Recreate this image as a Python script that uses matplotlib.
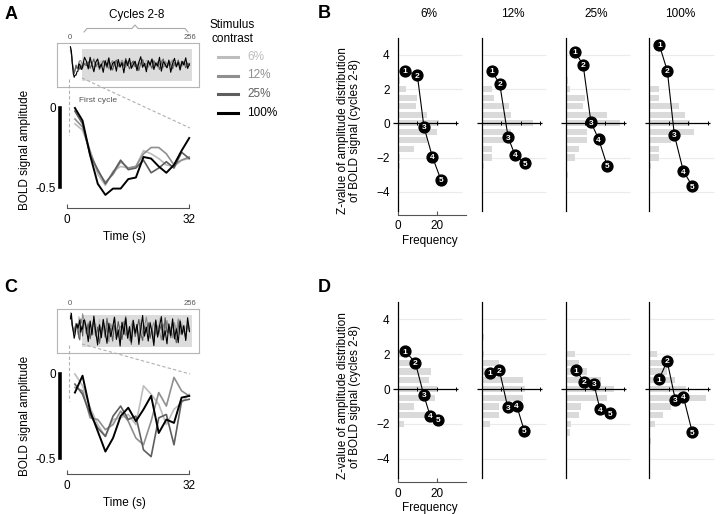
import numpy as np
import matplotlib.pyplot as plt
from matplotlib.lines import Line2D
from matplotlib.patches import Rectangle

plt.rcParams['font.family'] = ['Liberation Sans', 'DejaVu Sans']

W, H = 720, 514

contrasts = ['6%', '12%', '25%', '100%']
colors = ['#bdbdbd', '#8f8f8f', '#5e5e5e', '#000000']
widths = [1.2, 1.2, 1.2, 1.4]

# first cycle, one sample every 2 s
t_first = np.arange(2, 33, 2)

# panel A, first cycle (6, 12, 25, 100 %)
a_first = [
    [-0.10, -0.14, -0.27, -0.42, -0.49, -0.40, -0.37, -0.38, -0.37, -0.27, -0.29, -0.32, -0.36, -0.37, -0.33, -0.32],
    [-0.07, -0.12, -0.28, -0.40, -0.47, -0.42, -0.34, -0.38, -0.37, -0.29, -0.25, -0.25, -0.29, -0.36, -0.33, -0.31],
    [-0.02, -0.10, -0.30, -0.39, -0.48, -0.41, -0.33, -0.39, -0.38, -0.33, -0.41, -0.38, -0.34, -0.38, -0.28, -0.32],
    [0.00, -0.08, -0.30, -0.48, -0.55, -0.51, -0.51, -0.45, -0.44, -0.31, -0.32, -0.37, -0.41, -0.36, -0.27, -0.19],
]
# panel A, cycles 2-8 (read every 4 s from the inset)
a_rest = [
    [-0.31, -0.27, -0.35, -0.30, -0.24, -0.33, -0.37, -0.29, -0.26, -0.34, -0.31, -0.22, -0.30, -0.36, -0.28, -0.33,
     -0.25, -0.31, -0.38, -0.29, -0.27, -0.34, -0.30, -0.23, -0.32, -0.37, -0.28, -0.31, -0.26, -0.35, -0.29, -0.33,
     -0.24, -0.30, -0.36, -0.27, -0.32, -0.29, -0.38, -0.31, -0.25, -0.33, -0.28, -0.35, -0.30, -0.26, -0.34, -0.29,
     -0.37, -0.31, -0.27, -0.33, -0.30, -0.25, -0.32, -0.29],
    [-0.29, -0.34, -0.26, -0.32, -0.38, -0.28, -0.23, -0.31, -0.35, -0.27, -0.33, -0.29, -0.40, -0.30, -0.25, -0.34,
     -0.28, -0.36, -0.31, -0.24, -0.32, -0.37, -0.27, -0.30, -0.35, -0.26, -0.33, -0.39, -0.29, -0.31, -0.25, -0.34,
     -0.30, -0.37, -0.28, -0.23, -0.32, -0.35, -0.27, -0.33, -0.30, -0.38, -0.26, -0.31, -0.34, -0.29, -0.24, -0.33,
     -0.36, -0.28, -0.31, -0.35, -0.27, -0.32, -0.29, -0.34],
    [-0.34, -0.27, -0.39, -0.31, -0.22, -0.36, -0.29, -0.41, -0.33, -0.25, -0.30, -0.38, -0.26, -0.35, -0.42, -0.29,
     -0.24, -0.33, -0.37, -0.28, -0.35, -0.21, -0.31, -0.40, -0.30, -0.26, -0.36, -0.32, -0.43, -0.29, -0.23, -0.34,
     -0.38, -0.27, -0.31, -0.39, -0.25, -0.33, -0.30, -0.41, -0.28, -0.22, -0.35, -0.37, -0.26, -0.32, -0.40, -0.29,
     -0.34, -0.24, -0.36, -0.31, -0.27, -0.38, -0.30, -0.33],
    [-0.26, -0.40, -0.19, -0.33, -0.45, -0.28, -0.22, -0.38, -0.31, -0.46, -0.25, -0.35, -0.20, -0.42, -0.30, -0.27,
     -0.44, -0.23, -0.36, -0.29, -0.47, -0.24, -0.34, -0.21, -0.39, -0.32, -0.26, -0.43, -0.28, -0.18, -0.37, -0.30,
     -0.45, -0.25, -0.33, -0.22, -0.41, -0.29, -0.35, -0.19, -0.44, -0.27, -0.31, -0.38, -0.24, -0.46, -0.30, -0.21,
     -0.36, -0.28, -0.42, -0.26, -0.33, -0.20, -0.39, -0.31],
]

# panel C, first cycle
c_first = [
    [0.00, -0.07, -0.20, -0.30, -0.37, -0.27, -0.26, -0.24, -0.30, -0.07, -0.12, -0.18, -0.30, -0.21, -0.17, -0.12],
    [-0.08, -0.10, -0.26, -0.27, -0.33, -0.30, -0.22, -0.28, -0.38, -0.42, -0.28, -0.11, -0.19, -0.02, -0.10, -0.13],
    [-0.06, -0.12, -0.24, -0.32, -0.37, -0.25, -0.19, -0.27, -0.25, -0.45, -0.49, -0.26, -0.24, -0.42, -0.16, -0.15],
    [-0.11, -0.01, -0.22, -0.34, -0.46, -0.38, -0.25, -0.20, -0.28, -0.21, -0.13, -0.35, -0.27, -0.29, -0.14, -0.13],
]
c_rest = [
    [-0.22, -0.35, -0.15, -0.28, -0.40, -0.19, -0.31, -0.12, -0.37, -0.25, -0.44, -0.18, -0.30, -0.23, -0.39, -0.14,
     -0.33, -0.27, -0.46, -0.20, -0.29, -0.11, -0.36, -0.24, -0.41, -0.17, -0.32, -0.26, -0.38, -0.13, -0.30, -0.43,
     -0.21, -0.34, -0.16, -0.28, -0.40, -0.23, -0.35, -0.10, -0.27, -0.45, -0.19, -0.33, -0.25, -0.38, -0.14, -0.31,
     -0.42, -0.22, -0.29, -0.17, -0.36, -0.26, -0.20, -0.24],
    [-0.30, -0.18, -0.42, -0.26, -0.12, -0.37, -0.48, -0.21, -0.33, -0.15, -0.39, -0.27, -0.52, -0.20, -0.31, -0.09,
     -0.36, -0.44, -0.24, -0.29, -0.16, -0.41, -0.33, -0.50, -0.22, -0.13, -0.35, -0.27, -0.46, -0.19, -0.38, -0.25,
     -0.08, -0.32, -0.43, -0.28, -0.17, -0.40, -0.23, -0.34, -0.49, -0.20, -0.30, -0.14, -0.37, -0.26, -0.45, -0.18,
     -0.33, -0.11, -0.39, -0.24, -0.31, -0.42, -0.21, -0.28],
    [-0.38, -0.21, -0.47, -0.30, -0.14, -0.42, -0.26, -0.55, -0.33, -0.19, -0.44, -0.10, -0.36, -0.28, -0.51, -0.23,
     -0.40, -0.16, -0.34, -0.48, -0.25, -0.07, -0.39, -0.31, -0.57, -0.20, -0.43, -0.29, -0.12, -0.37, -0.50, -0.24,
     -0.35, -0.18, -0.46, -0.27, -0.53, -0.15, -0.41, -0.32, -0.22, -0.49, -0.09, -0.36, -0.28, -0.45, -0.17, -0.38,
     -0.54, -0.26, -0.13, -0.40, -0.30, -0.47, -0.21, -0.34],
    [-0.28, -0.52, -0.15, -0.40, -0.06, -0.35, -0.58, -0.22, -0.45, -0.12, -0.33, -0.55, -0.19, -0.43, -0.27, -0.08,
     -0.48, -0.31, -0.60, -0.17, -0.39, -0.10, -0.46, -0.25, -0.53, -0.14, -0.37, -0.21, -0.57, -0.30, -0.05, -0.42,
     -0.26, -0.51, -0.18, -0.36, -0.59, -0.13, -0.44, -0.24, -0.07, -0.49, -0.32, -0.56, -0.20, -0.41, -0.11, -0.47,
     -0.29, -0.54, -0.16, -0.38, -0.23, -0.50, -0.09, -0.34],
]

# amplitude histograms (z-value bins) and the five numbered points
z_bins = [3, 2.5, 2, 1.5, 1, 0.5, 0, -0.5, -1, -1.5, -2, -2.5, -3]
hist_B = [
    [0, 1, 4, 10, 9, 15, 21, 20, 15, 8, 1, 1, 0],
    [0, 0, 5, 6, 14, 15, 26, 15, 13, 5, 5, 1, 0],
    [0, 1, 2, 10, 9, 21, 28, 11, 11, 7, 5, 0, 1],
    [0, 0, 5, 5, 15, 18, 21, 23, 11, 5, 5, 1, 0],
]
hist_D = [
    [0, 0, 2, 7, 17, 16, 20, 19, 8, 14, 3, 0, 0],
    [1, 0, 1, 9, 10, 21, 22, 21, 9, 9, 4, 0, 0],
    [0, 0, 5, 7, 11, 18, 25, 21, 8, 7, 3, 2, 0],
    [0, 0, 4, 7, 9, 13, 19, 29, 11, 7, 3, 0, 1],
]
dots_B_f = [[3.6, 9.9, 13.3, 17.6, 22.0], [5.0, 9.2, 13.5, 17.0, 22.0],
            [4.8, 9.0, 13.0, 17.0, 21.3], [5.1, 9.2, 12.8, 17.4, 22.0]]
dots_B_z = [[3.06, 2.82, -0.20, -1.95, -3.30], [3.06, 2.30, -0.82, -1.85, -2.34],
            [4.19, 3.41, 0.06, -0.94, -2.48], [4.58, 3.06, -0.68, -2.79, -3.67]]
dots_D_f = [[3.7, 8.9, 13.2, 16.5, 20.7], [4.3, 9.0, 13.3, 17.9, 21.8],
            [5.1, 9.6, 14.5, 17.6, 22.7], [5.0, 9.1, 13.3, 17.4, 22.0]]
dots_D_z = [[2.18, 1.51, -0.34, -1.55, -1.78], [0.94, 1.09, -1.05, -0.96, -2.41],
            [1.09, 0.42, 0.29, -1.15, -1.40], [0.57, 1.61, -0.63, -0.44, -2.49]]

fig = plt.figure(figsize=(7.2, 5.14), dpi=100)


def add_ax(x0, y0, x1, y1):
    return fig.add_axes([x0 / W, 1 - y1 / H, (x1 - x0) / W, (y1 - y0) / H])


def fig_line(xs, ys, **kw):
    fig.add_artist(Line2D([x / W for x in xs], [1 - y / H for y in ys],
                          transform=fig.transFigure, **kw))


def fig_text(x, y, s, **kw):
    fig.text(x / W, 1 - y / H, s, **kw)


def time_panel(dy, scale, first, rest, diag_end, xaxis_px):
    # inset with the whole run
    ins = add_ax(56.7, 42.7 + dy, 199, 87.3 + dy)
    ins.set_xlim(-27.3, 276.3)
    ins.set_ylim(-0.73, 0.072)
    ins.add_patch(Rectangle((26, -0.62), 236, 0.58, color='#dcdcdc', lw=0, zorder=0))
    for vf, vr, c in zip(first, rest, colors):
        t_rest = 32 + 4 * np.arange(1, len(vr) + 1)
        ins.plot(np.concatenate([t_first, t_rest]), vf + vr, color=c, lw=0.8)
    ins.xaxis.tick_top()
    ins.set_xticks([0, 256])
    ins.set_yticks([])
    ins.tick_params(axis='x', length=0, pad=1.5, labelsize=5.5, labelcolor='#555555')
    for sp in ins.spines.values():
        sp.set_color('#b5b5b5')
        sp.set_linewidth(0.8)

    # first cycle
    zero = 108 + dy
    ax = add_ax(48, zero - 10, 200, xaxis_px + 4)
    ax.set_xlim((48 - 67.3) / 3.81, (200 - 67.3) / 3.81)
    ax.set_ylim(-(xaxis_px + 4 - zero) / scale, 10 / scale)
    for vals, c, lw in zip(first, colors, widths):
        ax.plot(t_first, vals, color=c, lw=lw)
    ax.spines[['top', 'right']].set_visible(False)
    ax.spines['left'].set_position(('data', (60 - 67.3) / 3.81))
    ax.spines['left'].set_bounds(-0.5, 0)
    ax.spines['left'].set_linewidth(2.6)
    ax.spines['bottom'].set_position(('data', -(xaxis_px - zero) / scale))
    ax.spines['bottom'].set_bounds(0, 32)
    ax.spines['bottom'].set_linewidth(0.8)
    ax.spines['bottom'].set_color('#555555')
    ax.set_yticks([0, -0.5], ['0', '-0.5'])
    ax.set_xticks([0, 32])
    ax.tick_params(axis='y', length=0, pad=3, labelsize=8.5)
    ax.tick_params(axis='x', direction='in', length=3, color='#555555', labelsize=8.5, pad=4)
    ax.set_xlabel('Time (s)', fontsize=8.5, labelpad=4)
    ax.patch.set_alpha(0)
    fig_text(25, 150 + dy, 'BOLD signal amplitude', rotation=90, ha='center', va='center', fontsize=8.5)

    dash = dict(color='#b0b0b0', lw=0.8, ls=(0, (3, 2)))
    fig_line([69, 69], [79 + dy, 135 + dy], **dash)
    fig_line([82, 190], [78 + dy, diag_end], **dash)


def hist_row(zero_px, unit_px, hists, dots_f, dots_z, titles):
    for k in range(4):
        x_axis = 398 + k * 83.8
        ax = add_ax(x_axis - 5, zero_px - 5.0 * unit_px, x_axis + 69, zero_px + 5.35 * unit_px)
        ax.set_xlim(-5 / 1.95, 69 / 1.95)
        ax.set_ylim(-5.35, 5.0)
        ax.hlines([-4, -2, 2, 4], 0, 33, color='#ebebeb', lw=0.8, zorder=0)
        ax.barh(z_bins, hists[k], height=0.36, color='#dadada', zorder=1)
        ax.hlines(0, -2.5, 31, color='black', lw=0.9, zorder=2)
        ax.plot([10, 20, 30], [0, 0, 0], ls='none', marker='|', ms=3, mew=0.7, color='black', zorder=2)
        ax.plot(dots_f[k], dots_z[k], color='black', lw=0.8, zorder=3)
        ax.plot(dots_f[k], dots_z[k], ls='none', marker='o', ms=7.8, color='black', zorder=4)
        for i, (f, z) in enumerate(zip(dots_f[k], dots_z[k])):
            ax.text(f, z, str(i + 1), color='white', fontsize=6, fontweight='bold',
                    ha='center', va='center_baseline', zorder=5)
        ax.spines[['top', 'right']].set_visible(False)
        ax.spines['left'].set_position(('data', 0))
        ax.spines['left'].set_bounds(-5.1, 5.0)
        ax.spines['left'].set_linewidth(0.9)
        ax.patch.set_alpha(0)
        if k == 0:
            ax.set_yticks([4, 2, 0, -2, -4])
            ax.tick_params(axis='y', length=0, pad=6, labelsize=8.5)
            ax.set_xticks([0, 20])
            ax.tick_params(axis='x', direction='in', length=3, color='#555555', labelsize=8.5, pad=4)
            ax.spines['bottom'].set_bounds(0, 35)
            ax.spines['bottom'].set_color('#555555')
            ax.set_xlabel('Frequency', fontsize=8.5, labelpad=2)
        else:
            ax.set_yticks([])
            ax.set_xticks([])
            ax.spines['bottom'].set_visible(False)
        if titles:
            fig_text(x_axis + 31, 14, contrasts[k], ha='center', va='center', fontsize=8.5)
    fig_text(349, zero_px + 7, 'Z-value of amplitude distribution\nof BOLD signal (cycles 2-8)',
             rotation=90, ha='center', va='center', fontsize=8.5, linespacing=1.05)


time_panel(0, 158, a_first, a_rest, 128, 208)
time_panel(266, 168.6, c_first, c_rest, 374, 474)
hist_row(123.3, 17.1, hist_B, dots_B_f, dots_B_z, True)
hist_row(389, 17.4, hist_D, dots_D_f, dots_D_z, False)

# cycles 2-8 brace and label
fig_line([84, 87, 132, 135, 138, 185, 188], [32, 28.5, 28.5, 25, 28.5, 28.5, 32], color='#aaaaaa', lw=0.8)
fig_text(137, 15, 'Cycles 2-8', ha='center', va='center', fontsize=8.5)
fig_text(79, 101, 'First cycle', ha='left', va='center', fontsize=6, color='#555555')

# legend
fig_text(232, 32, 'Stimulus\ncontrast', ha='center', va='center', fontsize=8.5)
for k, (lab, c) in enumerate(zip(contrasts, colors)):
    y = 57 + k * 18.5
    fig_line([218, 238], [y, y], color=c, lw=2.2)
    fig_text(247, y, lab, color=c, ha='left', va='center', fontsize=8.5)

for letter, x, y in [('A', 11, 14.5), ('B', 324, 14), ('C', 11, 288), ('D', 324, 288)]:
    fig_text(x, y, letter, ha='center', va='center', fontsize=13, fontweight='bold')

fig.savefig('out.png', dpi=100)
